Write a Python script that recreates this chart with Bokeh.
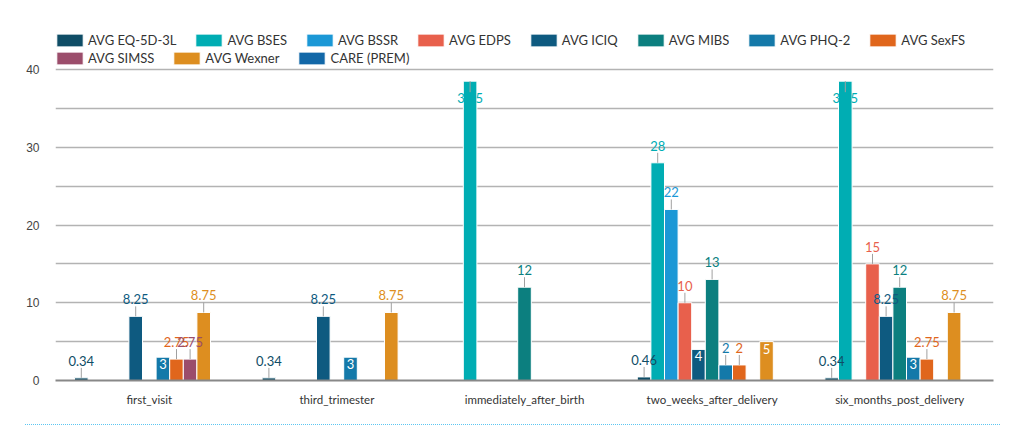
import math
from bokeh.plotting import figure
from bokeh.models import (FactorRange, Range1d, FixedTicker, Legend, LegendItem,
                          ColumnDataSource, Div)
from bokeh.transform import dodge
from bokeh.layouts import column
from bokeh.core.properties import value
from bokeh.embed import file_html
from bokeh.resources import INLINE

# ---------------- data ----------------
stages = ["first_visit", "third_trimester", "immediately_after_birth",
          "two_weeks_after_delivery", "six_months_post_delivery"]

series_names = ["AVG EQ-5D-3L", "AVG BSES", "AVG BSSR", "AVG EDPS", "AVG ICIQ",
                "AVG MIBS", "AVG PHQ-2", "AVG SexFS", "AVG SIMSS", "AVG Wexner",
                "CARE (PREM)"]

eq5d = [0.34, 0.34, None, 0.46, 0.34]
bses = [None, None, 38.5, 28, 38.5]
bssr = [None, None, None, 22, None]
edps = [None, None, None, 10, 15]
iciq = [8.25, 8.25, None, 4, 8.25]
mibs = [None, None, 12, 13, 12]
phq2 = [3, 3, None, 2, 3]
sexfs = [2.75, None, None, 2, 2.75]
simss = [2.75, None, None, None, None]
wexner = [8.75, 8.75, None, 5, 8.75]
care = [None, None, None, None, None]

series_values = [eq5d, bses, bssr, edps, iciq, mibs, phq2, sexfs, simss, wexner, care]

colors = ["#0f4d66", "#00adb3", "#1b98d6", "#e8604c", "#0e5a80", "#0c7f7f",
          "#1479a9", "#e0661c", "#9b4d6b", "#dd8e20", "#1268a8"]

y_ticks = [0, 10, 20, 30, 40]
y_minor = [5, 15, 25, 35]

# ---------------- figure ----------------
W, H = 1024, 420
GRID_TOP, FRAME_BOTTOM = 69, 380       # pixel rows of the 40 line and of 0
FRAME_TOP = 28                          # frame extends up to hold the legend
FRAME_LEFT, FRAME_RIGHT = 55, 993
plot_top = y_ticks[-1]
px = plot_top / (FRAME_BOTTOM - GRID_TOP)   # data units per pixel
y_max = (FRAME_BOTTOM - FRAME_TOP) * px

p = figure(width=W, height=H, x_range=FactorRange(factors=stages, range_padding=0),
           y_range=Range1d(0, y_max), output_backend="svg", toolbar_location=None,
           min_border_left=FRAME_LEFT, min_border_right=W - FRAME_RIGHT,
           min_border_top=FRAME_TOP, min_border_bottom=H - FRAME_BOTTOM)
p.outline_line_color = None
p.background_fill_color = "white"
p.border_fill_color = "white"

p.xgrid.grid_line_color = None
p.ygrid.ticker = FixedTicker(ticks=y_ticks, minor_ticks=y_minor)
p.ygrid.grid_line_color = "#b3b3b3"
p.ygrid.grid_line_width = 1.5
p.ygrid.minor_grid_line_color = "#b3b3b3"
p.ygrid.minor_grid_line_width = 1.5

p.yaxis.ticker = FixedTicker(ticks=y_ticks, minor_ticks=y_minor)
p.yaxis.axis_line_color = None
p.yaxis.major_tick_line_color = None
p.yaxis.minor_tick_line_color = None
p.yaxis.major_label_text_font = "Liberation Sans"
p.yaxis.major_label_text_font_size = "12px"
p.yaxis.major_label_text_color = "#444444"
p.yaxis.major_label_standoff = 10

p.xaxis.axis_line_color = "#888888"
p.xaxis.axis_line_width = 2
p.xaxis.major_tick_line_color = None
p.xaxis.minor_tick_line_color = None
p.xaxis.major_label_text_font = "Lato"
p.xaxis.major_label_text_font_size = "11.5px"
p.xaxis.major_label_text_color = "#333333"
p.xaxis.major_label_standoff = 6

n = len(series_names)
step = (FRAME_RIGHT - FRAME_LEFT) / len(stages)
bar_w = 13.6 / step

legend_items = []
label_layers = []
for i, (name, vals, col) in enumerate(zip(series_names, series_values, colors)):
    off = (i - (n - 1) / 2) * bar_w
    tops = [math.nan if v is None else v for v in vals]
    src = ColumnDataSource(dict(x=stages, top=tops))
    r = p.vbar(x=dodge("x", off, range=p.x_range), top="top", width=bar_w, source=src,
               fill_color=col, line_color="white", line_width=1)
    legend_items.append(LegendItem(label=name, renderers=[r]))

    # data labels
    xs, ty, tc, tt, l0, l1, lx = [], [], [], [], [], [], []
    for s, v in zip(stages, vals):
        if v is None:
            continue
        txt = f"{v:g}"
        h_px = v / px
        xs.append(s)
        if v + 24 * px > plot_top:
            ty.append(v - 17 * px); tc.append(col); tt.append(txt)
            l0.append(v); l1.append(v - 11 * px); lx.append(s)
        elif len(txt) == 1 and h_px >= 18:
            ty.append(v - 7 * px); tc.append("white"); tt.append(txt)
        else:
            ty.append(v + 17 * px); tc.append(col); tt.append(txt)
            l0.append(v); l1.append(v + 10 * px); lx.append(s)
    label_layers.append((off, xs, ty, tc, tt, l0, l1, lx))

for off, xs, ty, tc, tt, l0, l1, lx in label_layers:
    if lx:
        lsrc = ColumnDataSource(dict(x=lx, y0=l0, y1=l1))
        p.segment(x0=dodge("x", off, range=p.x_range), y0="y0",
                  x1=dodge("x", off, range=p.x_range), y1="y1",
                  source=lsrc, line_color="#a0a0a0", line_width=1)
    if xs:
        tsrc = ColumnDataSource(dict(x=xs, y=ty, c=tc, t=tt))
        p.text(x=dodge("x", off, range=p.x_range), y="y", text="t", source=tsrc,
               text_color="c", text_font=value("Lato"), text_font_size="13px",
               text_align="center", text_baseline="middle")

def make_legend(items, loc):
    return Legend(items=items, orientation="horizontal", location=loc,
                  label_text_font="Lato", label_text_font_size="13px",
                  label_text_color="#333333", glyph_width=33, glyph_height=16,
                  label_standoff=2, spacing=16, padding=0, margin=0,
                  label_height=13, border_line_color=None,
                  background_fill_alpha=0)

leg1 = make_legend(legend_items[:8], (-2, 332))
leg2 = make_legend(legend_items[8:], (-2, 314))
p.add_layout(leg1)
p.add_layout(leg2)

div = Div(text="", width=975, height=8, margin=(4, 0, 0, 25),
          styles={"border-top": "1px dotted #5cc6f2"})

layout = column(p, div, spacing=0)
open("out.html", "w").write(file_html(layout, INLINE))
